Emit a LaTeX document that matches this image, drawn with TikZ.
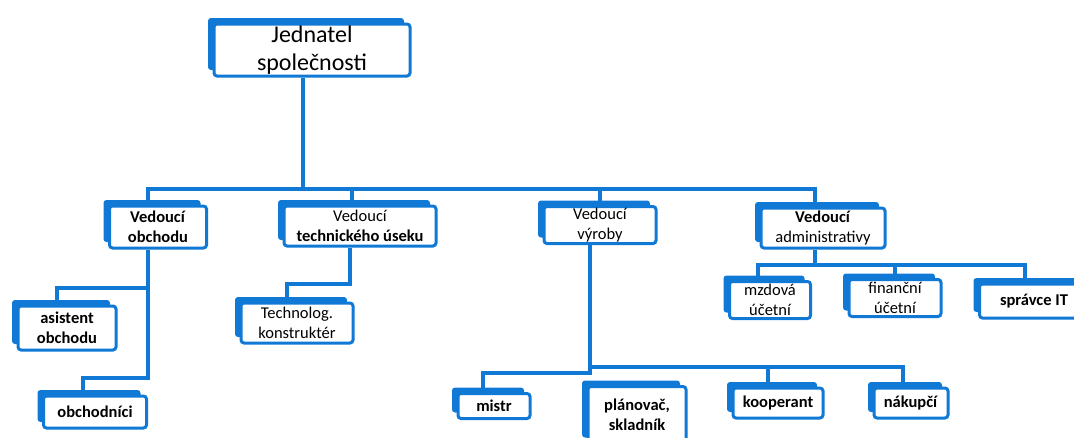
\documentclass[tikz,border=0pt]{standalone}
\usepackage{fontspec}
\setmainfont{Carlito}
\usetikzlibrary{shadows}

\definecolor{orgblue}{RGB}{16,121,214}

\begin{document}
\begin{tikzpicture}[x=1pt,y=-1pt]
  \tikzset{
    orgbox/.style={draw=orgblue, line width=3pt, rounded corners=3pt,
      fill=white, inner sep=0pt, align=center,
      font=\fontsize{16.5}{20}\selectfont,
      general shadow={fill=orgblue, shadow xshift=-6pt, shadow yshift=6pt}},
    conn/.style={draw=orgblue, line width=3.2pt}
  }
  \useasboundingbox (0,0) rectangle (1074,437);

  % boxes
  \node[orgbox, minimum width=196pt, minimum height=52pt,
        font=\fontsize{24}{28}\selectfont] (ceo) at (312,50) {Jednatel\\společnosti};

  \node[orgbox, minimum width=97pt,  minimum height=42pt] (obchod) at (158,227) {\textbf{Vedoucí}\\\textbf{obchodu}};
  \node[orgbox, minimum width=152pt, minimum height=40pt] (tech)   at (360,226) {Vedoucí\\\textbf{technického úseku}};
  \node[orgbox, minimum width=112pt, minimum height=37pt] (vyroba) at (600,225) {Vedoucí\\výroby};
  \node[orgbox, minimum width=124pt, minimum height=40pt] (adm)    at (823,228) {\textbf{Vedoucí}\\administrativy};

  \node[orgbox, minimum width=98pt,  minimum height=44pt] (asist)      at (67,328)  {\textbf{asistent}\\\textbf{obchodu}};
  \node[orgbox, minimum width=103pt, minimum height=32pt] (obchodnici) at (95,412)  {\textbf{obchodníci}};
  \node[orgbox, minimum width=112pt, minimum height=40pt] (technolog)  at (297,323) {Technolog.\\konstruktér};

  \node[orgbox, minimum width=72pt,  minimum height=25pt] (mistr)     at (494,406) {\textbf{mistr}};
  \node[orgbox, minimum width=98pt,  minimum height=57pt] (planovac)  at (637,415) {\textbf{plánovač,}\\\textbf{skladník}};
  \node[orgbox, minimum width=90pt,  minimum height=30pt] (kooperant) at (778,403) {\textbf{kooperant}};
  \node[orgbox, minimum width=74pt,  minimum height=30pt] (nakupci)   at (911,403) {\textbf{nákupčí}};

  \node[orgbox, minimum width=81pt,  minimum height=37pt] (mzdova)   at (770,300)  {mzdová\\účetní};
  \node[orgbox, minimum width=92pt,  minimum height=37pt] (financni) at (895,298)  {finanční\\účetní};
  \node[orgbox, minimum width=109pt, minimum height=34pt] (spravce)  at (1034,301) {\textbf{správce IT}};

  % bus points
  \coordinate (ceodrop)  at (303,189);
  \coordinate (busL)     at (148,189);
  \coordinate (busR)     at (815,189);
  \coordinate (techdrop) at (352,189);
  \coordinate (obA) at (148,288);
  \coordinate (obB) at (148,378);
  \coordinate (teA) at (350,284);
  \coordinate (vyA) at (590,367);
  \coordinate (vyB) at (590,373);
  \coordinate (adA) at (815,265);

  % connectors
  \draw[conn] (ceo.south -| ceodrop) -- (ceodrop);
  \draw[conn] (obchod.north -| busL) -- (busL) -- (busR) -- (adm.north -| busR);
  \draw[conn] (tech.north -| techdrop) -- (techdrop);
  \draw[conn] (vyroba.north) -- (vyroba.north |- busL);

  \draw[conn] (obchod.south -| obB) -- (obB) -| ([xshift=-12pt]obchodnici.north);
  \draw[conn] (obA) -| ([xshift=-10pt]asist.north);

  \draw[conn] (tech.south -| teA) -- (teA) -| ([xshift=-10pt]technolog.north);

  \draw[conn] (vyroba.south -| vyA) -- (vyB) -| ([xshift=-11pt]mistr.north);
  \draw[conn] (vyA) -| ([xshift=-8pt]nakupci.north);
  \draw[conn] ([xshift=-10pt]kooperant.north) |- (vyA);

  \draw[conn] (adm.south -| adA) -- (adA);
  \draw[conn] ([xshift=-12pt]mzdova.north) |- (adA) -| ([xshift=-9pt]spravce.north);
  \draw[conn] (financni.north) -- (financni.north |- adA);
\end{tikzpicture}
\end{document}
